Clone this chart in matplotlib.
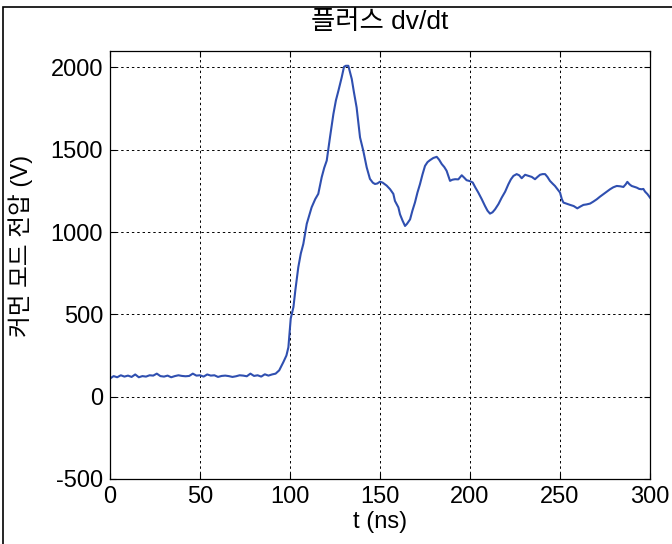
#!/usr/bin/env python3
"""Common-mode voltage waveform for a positive dv/dt step."""

import matplotlib
matplotlib.use("Agg")
import matplotlib.pyplot as plt
from matplotlib.patches import Rectangle
import numpy as np


# time (ns) and common-mode voltage (V)
T_NS = [
    0, 2, 4, 6, 8, 10, 12, 14, 16, 18, 20, 22, 24, 26, 28, 30, 32, 34, 36, 38,
    40, 42, 44, 46, 48, 50, 52, 54, 56, 58, 60, 62, 64, 66, 68, 70, 72, 74, 76,
    78, 80, 82, 84, 86, 88, 90, 92, 94,
    96.3, 98, 99.1, 100, 100.4, 101.9, 103, 104.6, 106, 107.4, 109.3, 112, 114,
    115.7, 117.6, 119, 120.4, 122.2, 124.1, 125.5, 126.9, 128.7, 130, 131,
    132.4, 134.3, 135.5, 137, 138.9, 140.7, 142.6, 144.4, 146, 147.2, 148.5,
    150, 151.5, 153.7, 155.6, 157.4, 158.3, 160.2, 161.1, 162.5, 163.9, 165,
    166.7, 168, 169.4, 170.8, 172.2, 173.6, 175, 176.4, 177.8, 179.6, 181.5,
    182.8, 184.3, 185.7, 187, 188.9, 190.2, 191.7, 193.5, 195.4, 196.8, 198.1,
    199.8, 201.5, 203, 204.6, 206.5, 208.3, 209.7, 211.1, 212.5, 213.9, 215.8,
    217.6, 219.5, 221.3, 222.7, 224.1, 225.9, 227.3, 228.7, 230.6, 232.4,
    234.3, 236.1, 237.5, 238.9, 240.3, 241.7, 243, 244.4, 245.8, 247.2, 248.6,
    250, 251, 251.9, 253.7, 255.6, 257.6, 259.6, 261.3, 263, 264.8, 266.7,
    268.5, 270.4, 272.2, 274.1, 276, 277.8, 279.6, 281.5, 283.4, 285.2, 286.5,
    287.4, 288.6, 289.8, 291.2, 292.6, 294, 295.4, 296.3, 297.2, 298.6, 300,
]
V_CM = [
    110, 125, 118, 130, 122, 128, 120, 135, 118, 125, 122, 130, 128, 140, 125,
    122, 128, 118, 125, 130, 126, 124, 126, 140, 128, 130, 122, 135, 128, 130,
    120, 126, 128, 125, 120, 124, 130, 128, 124, 140, 126, 130, 122, 136, 128,
    135, 140, 160,
    210, 250, 300, 420, 475, 544, 650, 786, 870, 928, 1050, 1150, 1200,
    1232, 1333, 1390, 1434, 1575, 1717, 1800, 1859, 1939, 2004, 2010,
    2010, 1930, 1850, 1757, 1575, 1494, 1393, 1323, 1300, 1292, 1295,
    1306, 1300, 1282, 1260, 1232, 1189, 1150, 1108, 1070, 1037, 1050,
    1077, 1130, 1179, 1240, 1291, 1350, 1402, 1425, 1437, 1450, 1457,
    1440, 1413, 1395, 1372, 1311, 1318, 1321, 1320, 1345, 1330, 1315,
    1310, 1301, 1270, 1240, 1200, 1159, 1130, 1112, 1120, 1138, 1170,
    1209, 1245, 1290, 1320, 1341, 1352, 1345, 1327, 1348, 1342,
    1335, 1321, 1335, 1348, 1352, 1352, 1335, 1311, 1295, 1280, 1260,
    1240, 1200, 1179, 1172, 1165, 1158, 1144, 1155, 1165, 1168, 1173,
    1185, 1199, 1215, 1230, 1245, 1260, 1272, 1280, 1278, 1274, 1290,
    1305, 1290, 1280, 1275, 1270, 1262, 1260, 1262, 1246, 1230, 1209,
]

X_TICKS = [0, 50, 100, 150, 200, 250, 300]
Y_TICKS = [-500, 0, 500, 1000, 1500, 2000]

TITLE = "플러스 dv/dt"
X_LABEL = "t (ns)"
Y_LABEL = "커먼 모드 전압 (V)"


def main() -> None:
    plt.rcParams["font.family"] = ["Liberation Sans", "Noto Sans CJK KR"]
    plt.rcParams["axes.unicode_minus"] = False

    fig = plt.figure(figsize=(6.72, 5.44), dpi=100)
    ax = fig.add_axes([0.1637, 0.1195, 0.8036, 0.7868])

    ax.plot(T_NS, V_CM, color="#2f4fb0", linewidth=1.5)

    ax.set_xlim(0, 300)
    ax.set_ylim(-500, 2100)
    ax.set_xticks(X_TICKS)
    ax.set_yticks(Y_TICKS)
    ax.tick_params(axis="both", direction="in", top=True, right=True,
                   length=4, width=0.8, labelsize=17, pad=5)
    ax.grid(True, color="black", linestyle=(0, (2.5, 3)), linewidth=0.7)
    for spine in ax.spines.values():
        spine.set_linewidth(0.9)

    ax.set_title(TITLE, fontsize=19, pad=16)
    ax.set_xlabel(X_LABEL, fontsize=17, labelpad=2)
    ax.set_ylabel(Y_LABEL, fontsize=17)
    ax.yaxis.set_label_coords(-0.143, 0.545)

    # outer frame of the original figure (left and top edges visible)
    frame = Rectangle((3 / 672, -0.1), 1.2, 1 - 7 / 544 + 0.1,
                      transform=fig.transFigure, fill=False,
                      edgecolor="black", linewidth=1.2, clip_on=False)
    fig.add_artist(frame)

    fig.savefig("out.png", dpi=100)
    plt.close(fig)


if __name__ == "__main__":
    main()
